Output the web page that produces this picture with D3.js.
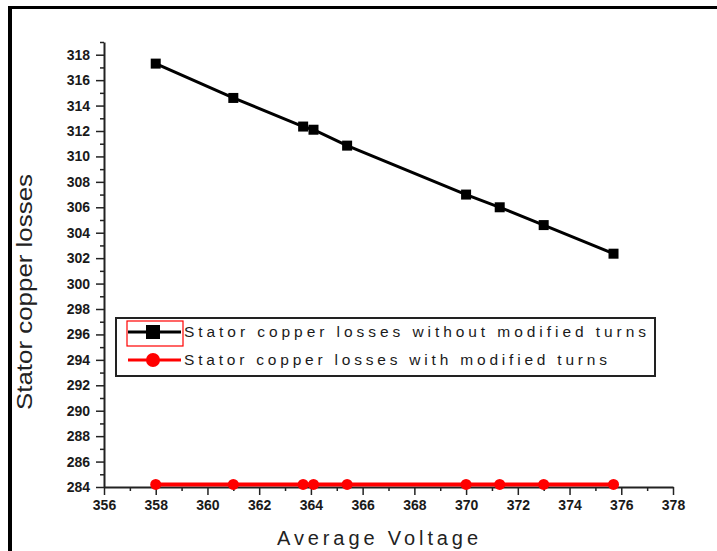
<!DOCTYPE html>
<html>
<head>
<meta charset="utf-8">
<script src="https://cdn.jsdelivr.net/npm/d3@7"></script>
<style>
  body { margin: 0; background: #fff; }
  svg { display: block; }
  .tick text { font-family: "Liberation Sans", Arial, sans-serif; font-weight: bold; font-size: 14px; fill: #1a1a1a; }
</style>
</head>
<body>
<div id="chart"></div>
<script>
// values
const voltage = [358, 361, 363.7, 364.1, 365.4, 370, 371.3, 373, 375.7];
const lossesWithout = [317.3, 314.6, 312.35, 312.1, 310.85, 307.0, 306.0, 304.6, 302.35];
const lossesWith = [284.2, 284.2, 284.2, 284.2, 284.2, 284.2, 284.2, 284.2, 284.2];
const xMajor = d3.range(356, 379, 2);
const xMinor = d3.range(357, 378, 2);
const yMajor = d3.range(284, 319, 2);
const yMinor = d3.range(285, 320, 2);
const seriesNames = ['Stator copper losses  without modified  turns', 'Stator copper losses  with modified turns'];

const width = 717, height = 551;

const svg = d3.select('#chart')
  .append('svg')
  .attr('width', width)
  .attr('height', height);

// outer frame (only top + left visible in the reference)
svg.append('rect').attr('x', 8).attr('y', 6).attr('width', width).attr('height', 3).attr('fill', '#000');
svg.append('rect').attr('x', 8).attr('y', 6).attr('width', 4).attr('height', height).attr('fill', '#000');

const x = d3.scaleLinear().domain([356, 378]).range([104, 673]);
const y = d3.scaleLinear().domain([284, 319]).range([487, 42]);

// y axis
svg.append('g')
  .attr('transform', `translate(${x(356)},0)`)
  .call(d3.axisLeft(y).tickValues(yMinor).tickSize(4).tickFormat(''))
  .call(g => g.select('.domain').remove())
  .selectAll('line').attr('stroke', '#222').attr('stroke-width', 1.5);

svg.append('g')
  .attr('transform', `translate(${x(356)},0)`)
  .call(d3.axisLeft(y).tickValues(yMajor).tickSize(8).tickPadding(6).tickSizeOuter(0))
  .call(g => g.select('.domain').attr('stroke', '#222').attr('stroke-width', 2))
  .call(g => g.selectAll('line').attr('stroke', '#222').attr('stroke-width', 1.5));

// x axis
svg.append('g')
  .attr('transform', `translate(0,${y(284)})`)
  .call(d3.axisBottom(x).tickValues(xMinor).tickSize(4).tickFormat(''))
  .call(g => g.select('.domain').remove())
  .selectAll('line').attr('stroke', '#222').attr('stroke-width', 1.5);

svg.append('g')
  .attr('transform', `translate(0,${y(284)})`)
  .call(d3.axisBottom(x).tickValues(xMajor).tickSize(8).tickPadding(5).tickSizeOuter(0))
  .call(g => g.select('.domain').attr('stroke', '#222').attr('stroke-width', 2))
  .call(g => g.selectAll('line').attr('stroke', '#222').attr('stroke-width', 1.5));

// axis titles
svg.append('text')
  .attr('x', 277).attr('y', 545)
  .attr('textLength', 201).attr('lengthAdjust', 'spacing')
  .style('font-family', '"Liberation Sans", Arial, sans-serif')
  .style('font-size', '20px').style('fill', '#222')
  .text('Average Voltage');

svg.append('text')
  .attr('transform', 'translate(32,410) rotate(-90)')
  .attr('textLength', 236).attr('lengthAdjust', 'spacingAndGlyphs')
  .style('font-family', '"Liberation Sans", Arial, sans-serif')
  .style('font-size', '22px').style('fill', '#222')
  .text('Stator copper losses');

const line = d3.line().x(d => x(d[0])).y(d => y(d[1]));

// red series
const redPts = voltage.map((v, i) => [v, lossesWith[i]]);
svg.append('path')
  .datum(redPts)
  .attr('d', line)
  .attr('fill', 'none').attr('stroke', '#f00').attr('stroke-width', 4);
svg.selectAll('.redpt')
  .data(redPts)
  .enter().append('circle')
  .attr('class', 'redpt')
  .attr('cx', d => x(d[0])).attr('cy', d => y(d[1]))
  .attr('r', 5.5).attr('fill', '#f00');

// black series
const blackPts = voltage.map((v, i) => [v, lossesWithout[i]]);
svg.append('path')
  .datum(blackPts)
  .attr('d', line)
  .attr('fill', 'none').attr('stroke', '#000').attr('stroke-width', 3);
svg.selectAll('.blackpt')
  .data(blackPts)
  .enter().append('rect')
  .attr('class', 'blackpt')
  .attr('x', d => x(d[0]) - 5).attr('y', d => y(d[1]) - 5)
  .attr('width', 10).attr('height', 10).attr('fill', '#000');

// legend
const lg = svg.append('g');
lg.append('rect')
  .attr('x', 116).attr('y', 318).attr('width', 539).attr('height', 58)
  .attr('fill', '#fff').attr('stroke', '#222').attr('stroke-width', 2);
lg.append('rect')
  .attr('x', 127).attr('y', 321).attr('width', 56).attr('height', 25)
  .attr('fill', 'none').attr('stroke', '#f00').attr('stroke-width', 1.2);

const rows = [332, 360];
const legColors = ['#000', '#f00'];
const textLens = [462, 423];
rows.forEach((ry, i) => {
  lg.append('line')
    .attr('x1', 128).attr('x2', 181).attr('y1', ry).attr('y2', ry)
    .attr('stroke', legColors[i]).attr('stroke-width', 3);
  if (i === 0) {
    lg.append('rect').attr('x', 146).attr('y', ry - 7).attr('width', 14).attr('height', 14).attr('fill', '#000');
  } else {
    lg.append('circle').attr('cx', 153).attr('cy', ry).attr('r', 7).attr('fill', '#f00');
  }
  lg.append('text')
    .attr('x', 184).attr('y', ry + 5)
    .attr('textLength', textLens[i]).attr('lengthAdjust', 'spacing')
    .style('font-family', '"Liberation Sans", Arial, sans-serif')
    .style('font-size', '15.5px').style('fill', '#1a1a1a')
    .text(seriesNames[i]);
});
</script>
</body>
</html>
